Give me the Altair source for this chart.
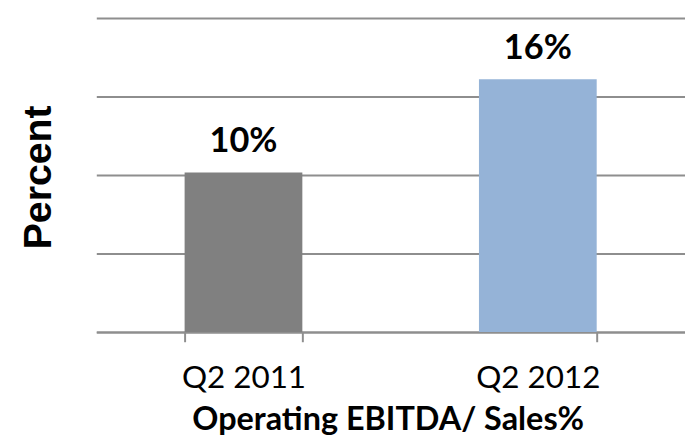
import altair as alt
import pandas as pd

categories = ["Q2 2011", "Q2 2012"]
values = [10.15, 16.1]
labels = ["10%", "16%"]
colors = ["#808080", "#95B3D7"]

df = pd.DataFrame({"cat": categories, "val": values, "lab": labels, "col": colors})

base = alt.Chart(df).encode(
    x=alt.X(
        "cat:N",
        sort=categories,
        scale=alt.Scale(paddingInner=0.6, paddingOuter=0.3),
        axis=alt.Axis(
            title="Operating EBITDA/ Sales%",
            titleFont="Lato",
            titleFontSize=33,
            titleFontWeight="bold",
            titleColor="#000000",
            titleBaseline="alphabetic",
            titleX=297,
            titleY=99,
            labelFont="Lato",
            labelFontSize=32,
            labelColor="#000000",
            labelAngle=0,
            labelBaseline="alphabetic",
            labelPadding=47,
            tickBand="extent",
            tickSize=10,
            tickColor="#8E8E8E",
            tickWidth=2,
            domainColor="#8E8E8E",
            domainWidth=2,
            grid=False,
        ),
    ),
    y=alt.Y(
        "val:Q",
        scale=alt.Scale(domain=[0, 20]),
        axis=alt.Axis(
            title="Percent",
            titleFont="Liberation Sans",
            titleFontSize=40,
            titleFontWeight="bold",
            titleColor="#000000",
            titleAngle=-90,
            titleBaseline="middle",
            titleAlign="center",
            titleX=-59,
            titleY=162,
            values=[0, 5, 10, 15, 20],
            labels=False,
            ticks=False,
            domain=False,
            grid=True,
            gridColor="#8E8E8E",
            gridWidth=2,
        ),
    ),
)

bars = base.mark_bar().encode(color=alt.Color("col:N", scale=None))
text = base.mark_text(dy=-32, baseline="middle", font="Lato", fontSize=35, fontWeight="bold", color="#000000").encode(text="lab:N")

chart = (bars + text).properties(
    width=600,
    height=320,
    padding={"left": 11, "top": 6, "right": 0, "bottom": 0},
).configure_view(stroke=None)

chart.save("out.html", embed_options={"renderer": "svg", "actions": False})
